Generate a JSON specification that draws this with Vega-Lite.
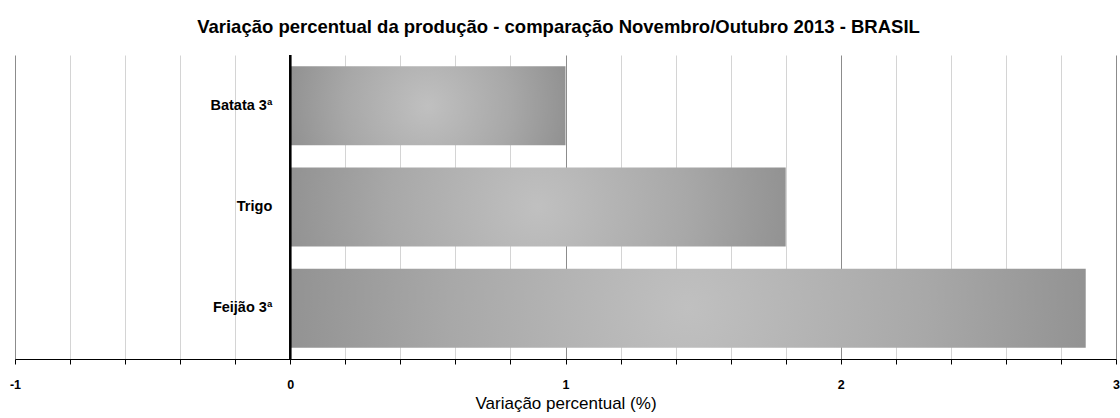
{
  "$schema": "https://vega.github.io/schema/vega-lite/v6.json",
  "width": 1101,
  "height": 304,
  "autosize": "none",
  "padding": {"left": 15, "top": 55, "right": 4, "bottom": 59},
  "background": "white",
  "config": {
    "view": {"stroke": null},
    "font": "Liberation Sans"
  },
  "title": {
    "text": "Variação percentual da produção - comparação Novembro/Outubro 2013 - BRASIL",
    "fontSize": 18.5,
    "fontWeight": "bold",
    "font": "Liberation Sans",
    "color": "#000000",
    "anchor": "middle",
    "offset": 18,
    "dx": -7
  },
  "data": {
    "values": [
      {"produto": "Batata 3ª", "variacao": 1.0},
      {"produto": "Trigo", "variacao": 1.8},
      {"produto": "Feijão 3ª", "variacao": 2.89}
    ]
  },
  "layer": [
    {
      "mark": {
        "type": "bar",
        "color": {
          "gradient": "radial",
          "x1": 0.5, "y1": 0.5, "r1": 0,
          "x2": 0.5, "y2": 0.5, "r2": 0.6,
          "stops": [
            {"offset": 0, "color": "#c0c0c0"},
            {"offset": 0.5, "color": "#a8a8a8"},
            {"offset": 1, "color": "#888888"}
          ]
        }
      },
      "encoding": {
        "y": {
          "field": "produto",
          "type": "nominal",
          "sort": null,
          "axis": null,
          "scale": {"paddingInner": 0.22, "paddingOuter": 0.11}
        },
        "x": {
          "field": "variacao",
          "type": "quantitative",
          "scale": {"domain": [-1, 3], "nice": false, "zero": false},
          "axis": {
            "values": [-1, -0.8, -0.6, -0.4, -0.2, 0, 0.2, 0.4, 0.6, 0.8, 1, 1.2, 1.4, 1.6, 1.8, 2, 2.2, 2.4, 2.6, 2.8, 3],
            "labelExpr": "datum.value % 1 === 0 ? '' + datum.value : ''",
            "title": "Variação percentual (%)",
            "titleFont": "Liberation Sans",
            "titleFontSize": 17,
            "titleFontWeight": "normal",
            "titleColor": "#000000",
            "titlePadding": 5,
            "labelFont": "Liberation Sans",
            "labelFontSize": 12.5,
            "labelFontWeight": "bold",
            "labelColor": "#000000",
            "labelFlush": false,
            "labelPadding": 14,
            "labelOverlap": false,
            "domainColor": "#000000",
            "domainWidth": 1,
            "tickColor": "#000000",
            "tickSize": 5,
            "grid": true,
            "gridColor": {"condition": {"test": "datum.value % 1 === 0", "value": "#8c8c8c"}, "value": "#d4d4d4"},
            "gridWidth": 1
          }
        }
      }
    },
    {
      "mark": {"type": "rule", "color": "#000000", "strokeWidth": 2},
      "encoding": {"x": {"datum": 0}}
    },
    {
      "mark": {"type": "text", "align": "right", "baseline": "middle", "dx": -18, "fontSize": 14.5, "fontWeight": "bold", "font": "Liberation Sans", "color": "#000000"},
      "encoding": {
        "y": {"field": "produto", "type": "nominal", "sort": null},
        "x": {"datum": 0},
        "text": {"field": "produto"}
      }
    }
  ]
}
